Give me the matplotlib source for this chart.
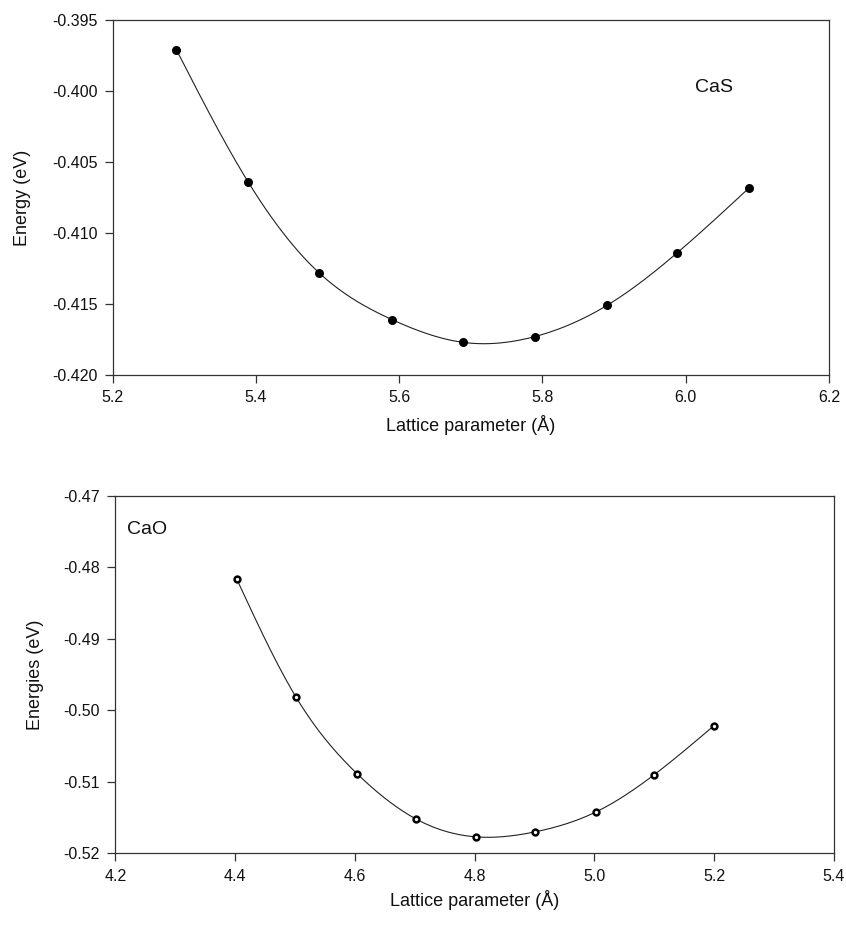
import numpy as np
import matplotlib.pyplot as plt

plt.rcParams['font.family'] = ['Liberation Sans', 'DejaVu Sans']

# CaS: lattice parameter (Å) vs energy (eV)
cas_a = [5.289, 5.389, 5.488, 5.590, 5.689, 5.789, 5.890, 5.988, 6.089]
cas_e = [-0.3971, -0.4064, -0.4128, -0.4161, -0.4177, -0.4173, -0.4151, -0.4114, -0.4068]

# CaO
cao_a = [4.403, 4.502, 4.604, 4.702, 4.802, 4.901, 5.003, 5.100, 5.199]
cao_e = [-0.4817, -0.4982, -0.5089, -0.5152, -0.5177, -0.5170, -0.5142, -0.5090, -0.5022]

cas_ticks_x = [5.2, 5.4, 5.6, 5.8, 6.0, 6.2]
cas_ticks_y = [-0.420, -0.415, -0.410, -0.405, -0.400, -0.395]
cao_ticks_x = [4.2, 4.4, 4.6, 4.8, 5.0, 5.2, 5.4]
cao_ticks_y = [-0.52, -0.51, -0.50, -0.49, -0.48, -0.47]


def spline(x, y, n=300):
    # natural cubic spline through the points, for the smooth connecting line
    x = np.asarray(x, float)
    y = np.asarray(y, float)
    k = len(x)
    h = np.diff(x)
    A = np.zeros((k, k))
    b = np.zeros(k)
    A[0, 0] = A[-1, -1] = 1
    for i in range(1, k - 1):
        A[i, i - 1] = h[i - 1]
        A[i, i] = 2 * (h[i - 1] + h[i])
        A[i, i + 1] = h[i]
        b[i] = 6 * ((y[i + 1] - y[i]) / h[i] - (y[i] - y[i - 1]) / h[i - 1])
    M = np.linalg.solve(A, b)
    xs = np.linspace(x[0], x[-1], n)
    j = np.clip(np.searchsorted(x, xs) - 1, 0, k - 2)
    t0 = x[j + 1] - xs
    t1 = xs - x[j]
    hj = h[j]
    ys = (M[j] * t0**3 / (6 * hj) + M[j + 1] * t1**3 / (6 * hj)
          + (y[j] / hj - M[j] * hj / 6) * t0 + (y[j + 1] / hj - M[j + 1] * hj / 6) * t1)
    return xs, ys


W, H = 846, 926
fig = plt.figure(figsize=(W / 100, H / 100), dpi=100)
ax1 = fig.add_axes([112.7 / W, 1 - 375 / H, (829 - 112.7) / W, (375 - 20) / H])
ax2 = fig.add_axes([115.3 / W, 1 - 853.3 / H, (834 - 115.3) / W, (853.3 - 495.7) / H])

txt = '#111111'

xs, ys = spline(cas_a, cas_e)
ax1.plot(xs, ys, color='#222222', lw=0.8)
ax1.plot(cas_a, cas_e, 'o', color='black', ms=6.5, mew=0)
ax1.set_xlim(5.2, 6.2)
ax1.set_ylim(-0.420, -0.395)
ax1.set_xticks(cas_ticks_x)
ax1.set_xticklabels(['%.1f' % v for v in cas_ticks_x])
ax1.set_yticks(cas_ticks_y)
ax1.set_yticklabels(['%.3f' % v for v in cas_ticks_y])
ax1.set_xlabel('Lattice parameter (Å)', fontsize=13, color=txt)
ax1.set_ylabel('Energy (eV)', fontsize=13, color=txt)
ax1.xaxis.set_label_coords(0.5, -0.112)
ax1.yaxis.set_label_coords(-0.114, 0.5)
ax1.text(0.84, 0.81, 'CaS', transform=ax1.transAxes, fontsize=14,
         ha='center', va='center', color=txt)

xs, ys = spline(cao_a, cao_e)
ax2.plot(xs, ys, color='#222222', lw=0.8)
ax2.plot(cao_a, cao_e, 'o', mfc='white', mec='black', ms=4.2, mew=1.8)
ax2.set_xlim(4.2, 5.4)
ax2.set_ylim(-0.52, -0.47)
ax2.set_xticks(cao_ticks_x)
ax2.set_xticklabels(['%.1f' % v for v in cao_ticks_x])
ax2.set_yticks(cao_ticks_y)
ax2.set_yticklabels(['%.2f' % v for v in cao_ticks_y])
ax2.set_xlabel('Lattice parameter (Å)', fontsize=13, color=txt)
ax2.set_ylabel('Energies (eV)', fontsize=13, color=txt)
ax2.xaxis.set_label_coords(0.5, -0.104)
ax2.yaxis.set_label_coords(-0.099, 0.5)
ax2.text(0.016, 0.905, 'CaO', transform=ax2.transAxes, fontsize=14,
         ha='left', va='center', color=txt)

for ax in (ax1, ax2):
    for s in ax.spines.values():
        s.set_color('#333333')
        s.set_linewidth(0.9)
    ax.tick_params(direction='out', length=6, width=0.9, color='#333333',
                   labelsize=11.5, labelcolor=txt, pad=5)

fig.savefig('out.png', dpi=100)
